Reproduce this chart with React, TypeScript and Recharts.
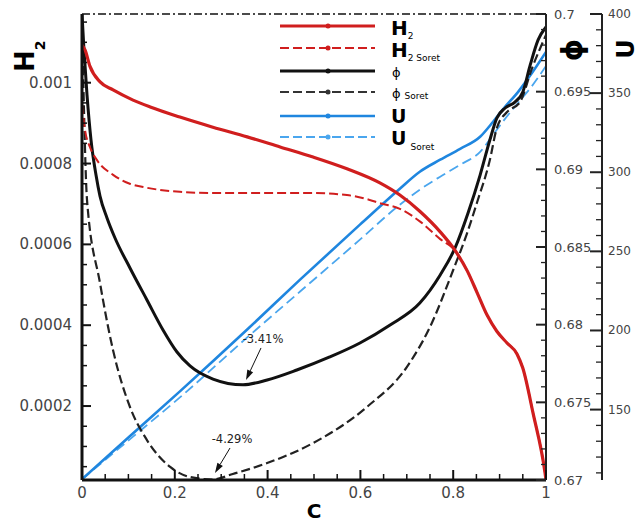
import React from 'react';
import { LineChart, Line, XAxis, YAxis, ReferenceLine } from 'recharts';

// progress variable C and profiles
const cH2 = [0, 0.0065, 0.017, 0.039, 0.067, 0.11, 0.147, 0.211, 0.282, 0.356, 0.427, 0.498, 0.571, 0.642, 0.685, 0.728, 0.772, 0.804, 0.83, 0.851, 0.873, 0.894, 0.916, 0.9375, 0.95, 0.972, 0.998, 1];
const h2 = [0.001093, 0.001081, 0.001041, 0.001002, 0.000982, 0.000957, 0.00094, 0.000915, 0.00089, 0.000866, 0.000841, 0.000816, 0.000787, 0.000752, 0.000722, 0.000682, 0.000631, 0.000585, 0.000535, 0.000482, 0.000425, 0.000385, 0.000356, 0.000329, 0.000294, 0.000183, 0.000034, 0.000017];

const cH2Soret = [0, 0.0065, 0.017, 0.032, 0.067, 0.103, 0.14, 0.211, 0.282, 0.427, 0.498, 0.571, 0.62, 0.642, 0.685, 0.728, 0.772, 0.804, 0.83, 0.851, 0.873, 0.894, 0.916, 0.9375, 0.95, 0.972, 0.998, 1];
const h2Soret = [0.000945, 0.000883, 0.000841, 0.000809, 0.000772, 0.00075, 0.00074, 0.00073, 0.000727, 0.000727, 0.000727, 0.000722, 0.00071, 0.000702, 0.000688, 0.000657, 0.000613, 0.000585, 0.000535, 0.000482, 0.000425, 0.000385, 0.000356, 0.000329, 0.000294, 0.000183, 0.000034, 0.000017];

const cPhi = [0, 0.0043, 0.0108, 0.0194, 0.0302, 0.0388, 0.0539, 0.0711, 0.1034, 0.14, 0.1746, 0.2047, 0.2328, 0.2823, 0.347, 0.399, 0.463, 0.534, 0.599, 0.664, 0.728, 0.772, 0.804, 0.832, 0.858, 0.879, 0.894, 0.912, 0.933, 0.95, 0.966, 0.983, 1];
const phi = [0.7, 0.69768, 0.69479, 0.69189, 0.68963, 0.68828, 0.68687, 0.68558, 0.68365, 0.68159, 0.67966, 0.67824, 0.67734, 0.6765, 0.67613, 0.67644, 0.67708, 0.67792, 0.67882, 0.67998, 0.68139, 0.6832, 0.68494, 0.68719, 0.68963, 0.69189, 0.6933, 0.69395, 0.69433, 0.69498, 0.69672, 0.69833, 0.69916];

const cPhiSoret = [0, 0.0043, 0.0108, 0.0388, 0.0668, 0.1034, 0.14, 0.19, 0.233, 0.282, 0.325, 0.399, 0.498, 0.614, 0.7, 0.75, 0.8, 0.83, 0.851, 0.879, 0.894, 0.916, 0.944, 0.97, 1];
const phiSoret = [0.7, 0.69382, 0.68803, 0.68268, 0.67837, 0.6747, 0.67257, 0.67084, 0.67019, 0.67003, 0.67039, 0.67109, 0.67238, 0.6747, 0.67727, 0.67985, 0.68352, 0.6859, 0.68783, 0.6906, 0.69266, 0.69369, 0.69433, 0.69652, 0.69865];

const cU = [0, 0.103, 0.211, 0.356, 0.47, 0.599, 0.685, 0.728, 0.772, 0.815, 0.858, 0.886, 0.91, 0.94, 0.97, 1];
const u = [106, 133.1, 161.5, 200.6, 232.1, 266.9, 289.6, 300.3, 307.9, 314.8, 322.4, 331.9, 340.7, 350.8, 362.8, 376];
const uSoret = [106, 131.2, 157.7, 195.6, 224.6, 257.4, 279.5, 289, 297.2, 304.7, 312.9, 323.7, 333.1, 343.9, 354.6, 367.2];

// drop of phi below 0.7, arrow from label to the curve minimum
const phiDrops = ['-3.41%', '-4.29%'];
const dropFrom = [[0.3858, 0.6785], [0.319, 0.67206]];
const dropTo = [[0.3534, 0.67644], [0.2866, 0.67045]];

const xTicks = [0, 0.2, 0.4, 0.6, 0.8, 1];
const xLabels = ['0', '0.2', '0.4', '0.6', '0.8', '1'];
const h2Ticks = [0.0002, 0.0004, 0.0006, 0.0008, 0.001];
const h2Labels = ['0.0002', '0.0004', '0.0006', '0.0008', '0.001'];
const phiTicks = [0.67, 0.675, 0.68, 0.685, 0.69, 0.695, 0.7];
const phiLabels = ['0.67', '0.675', '0.68', '0.685', '0.69', '0.695', '0.7'];
const uTicks = [150, 200, 250, 300, 350, 400];
const uLabels = ['150', '200', '250', '300', '350', '400'];

const RED = '#d01e1e';
const BLUE = '#1f86df';
const LBLUE = '#4aa6ee';
const FONT = 'DejaVu Sans, sans-serif';

const pts = (xs: number[], ys: number[]) => xs.map((c, i) => ({ c, v: ys[i] }));

const withMinor = (lo: number, hi: number, step: number) => {
  const out: number[] = [];
  for (let v = lo; v <= hi + step / 2; v += step) out.push(+v.toPrecision(6));
  return out;
};

const findMajor = (majors: number[], v: number, eps: number) => majors.findIndex((m) => Math.abs(m - v) < eps);

const LeftTick = (props: any) => {
  const { x, y, payload } = props;
  const i = findMajor(h2Ticks, payload.value, 1e-8);
  if (i < 0) return <line x1={x} x2={x + 5} y1={y} y2={y} stroke="#111" strokeWidth={1.5} />;
  return (
    <g>
      <line x1={x} x2={x + 9} y1={y} y2={y} stroke="#111" strokeWidth={2} />
      <text x={x - 10} y={y} textAnchor="end" dominantBaseline="central" fontSize={15} fill="#444" fontFamily={FONT}>{h2Labels[i]}</text>
    </g>
  );
};

const BottomTick = (props: any) => {
  const { x, y, payload } = props;
  const i = findMajor(xTicks, payload.value, 1e-4);
  if (i < 0) return <line x1={x} x2={x} y1={y} y2={y - 6} stroke="#111" strokeWidth={1.5} />;
  return (
    <g>
      <line x1={x} x2={x} y1={y} y2={y - 10} stroke="#111" strokeWidth={2} />
      <text x={x} y={y + 18} textAnchor="middle" fontSize={15} fill="#444" fontFamily={FONT}>{xLabels[i]}</text>
    </g>
  );
};

const PhiTick = (props: any) => {
  const { x, y, payload } = props;
  const i = findMajor(phiTicks, payload.value, 1e-5);
  if (i < 0) return <line x1={x} x2={x - 5} y1={y} y2={y} stroke="#222" strokeWidth={1.3} />;
  return (
    <g>
      <line x1={x} x2={x - 10} y1={y} y2={y} stroke="#222" strokeWidth={2} />
      <text x={x + 8} y={y} dominantBaseline="central" fontSize={13} fill="#444" fontFamily={FONT}>{phiLabels[i]}</text>
    </g>
  );
};

const UTick = (props: any) => {
  const { x, y, payload } = props;
  const i = findMajor(uTicks, payload.value, 0.5);
  if (i < 0) return <line x1={x} x2={x - 6} y1={y} y2={y} stroke="#222" strokeWidth={1.3} />;
  return (
    <g>
      <line x1={x} x2={x - 12} y1={y} y2={y} stroke="#222" strokeWidth={2} />
      <text x={x + 6} y={y} dominantBaseline="central" fontSize={12} fill="#444" fontFamily={FONT}>{uLabels[i]}</text>
    </g>
  );
};

const arrowShape = (label: string) => (p: any) => {
  const { x1, y1, x2, y2 } = p;
  const dx = x2 - x1;
  const dy = y2 - y1;
  const len = Math.sqrt(dx * dx + dy * dy) || 1;
  const ux = dx / len;
  const uy = dy / len;
  const bx = x2 - ux * 10;
  const by = y2 - uy * 10;
  return (
    <g>
      <line x1={x1} y1={y1} x2={bx} y2={by} stroke="#111" strokeWidth={1} />
      <polygon points={`${x2},${y2} ${bx - uy * 3.2},${by + ux * 3.2} ${bx + uy * 3.2},${by - ux * 3.2}`} fill="#111" />
      <text x={x1 + 2} y={y1 - 5} textAnchor="middle" fontSize={11.5} fill="#222" fontFamily={FONT}>{label}</text>
    </g>
  );
};

const legendRows = [
  { color: RED, dash: undefined, width: 3 },
  { color: RED, dash: '9 4', width: 2 },
  { color: '#111', dash: undefined, width: 3 },
  { color: '#333', dash: '9 4', width: 2 },
  { color: BLUE, dash: undefined, width: 2.5 },
  { color: LBLUE, dash: '9 4', width: 2 },
];
const legendY = [26, 48, 71, 92, 116, 137];

export default function App() {
  const h2All = withMinor(0.00005, 0.00115, 0.00005);
  const xAll = withMinor(0, 1, 0.05);
  const phiAll = withMinor(0.67, 0.7, 0.001);
  const uAll = withMinor(110, 400, 10);

  return (
    <div style={{ position: 'absolute', left: 0, top: 0, width: 641, height: 522, background: '#fff' }}>
      <LineChart width={641} height={522} margin={{ top: 14, right: 0, bottom: 0, left: 0 }}>
        <XAxis
          type="number"
          dataKey="c"
          domain={[0, 1]}
          allowDataOverflow
          ticks={xAll}
          interval={0}
          height={42}
          tickSize={0}
          tickMargin={0}
          tick={<BottomTick />}
          axisLine={{ stroke: '#111', strokeWidth: 3 }}
        />
        <YAxis
          yAxisId="h2"
          orientation="left"
          type="number"
          domain={[0.000017, 0.00117]}
          allowDataOverflow
          ticks={h2All}
          interval={0}
          width={82}
          tickSize={0}
          tickMargin={0}
          tick={<LeftTick />}
          axisLine={{ stroke: '#111', strokeWidth: 3 }}
        />
        <YAxis
          yAxisId="phi"
          orientation="right"
          type="number"
          domain={[0.67, 0.7]}
          allowDataOverflow
          ticks={phiAll}
          interval={0}
          width={56}
          tickSize={0}
          tickMargin={0}
          tick={<PhiTick />}
          axisLine={{ stroke: '#222', strokeWidth: 2 }}
        />
        <YAxis
          yAxisId="u"
          orientation="right"
          type="number"
          domain={[105.5, 400]}
          allowDataOverflow
          ticks={uAll}
          interval={0}
          width={39}
          tickSize={0}
          tickMargin={0}
          tick={<UTick />}
          axisLine={{ stroke: '#222', strokeWidth: 2 }}
        />
        <ReferenceLine yAxisId="h2" y={0.00117} stroke="#111" strokeWidth={1.5} strokeDasharray="8 3 2 3" />

        <Line data={pts(cU, uSoret)} dataKey="v" yAxisId="u" type="monotone" stroke={LBLUE} strokeWidth={1.8} strokeDasharray="10 5" dot={false} isAnimationActive={false} />
        <Line data={pts(cU, u)} dataKey="v" yAxisId="u" type="monotone" stroke={BLUE} strokeWidth={2.6} dot={false} isAnimationActive={false} />
        <Line data={pts(cPhiSoret, phiSoret)} dataKey="v" yAxisId="phi" type="monotone" stroke="#222" strokeWidth={2.2} strokeDasharray="9 4" dot={false} isAnimationActive={false} />
        <Line data={pts(cPhi, phi)} dataKey="v" yAxisId="phi" type="monotone" stroke="#111" strokeWidth={3} dot={false} isAnimationActive={false} />
        <Line data={pts(cH2Soret, h2Soret)} dataKey="v" yAxisId="h2" type="monotone" stroke={RED} strokeWidth={2} strokeDasharray="9 4" dot={false} isAnimationActive={false} />
        <Line data={pts(cH2, h2)} dataKey="v" yAxisId="h2" type="monotone" stroke={RED} strokeWidth={3.2} dot={false} isAnimationActive={false} />

        {phiDrops.map((label, i) => (
          <ReferenceLine
            key={label}
            yAxisId="phi"
            segment={[{ x: dropFrom[i][0], y: dropFrom[i][1] }, { x: dropTo[i][0], y: dropTo[i][1] }]}
            shape={arrowShape(label)}
          />
        ))}
      </LineChart>

      <svg width={641} height={522} style={{ position: 'absolute', left: 0, top: 0, pointerEvents: 'none' }} fontFamily={FONT}>
        {/* axis titles */}
        <text transform="translate(34,72) rotate(-90)" fontSize={26} fontWeight={700} fill="#000">
          H<tspan fontSize={14} dy={11}>2</tspan>
        </text>
        <text transform="translate(582,50) rotate(-90)" textAnchor="middle" fontSize={28} fontWeight={700} fill="#000">ϕ</text>
        <text transform="translate(634,49) rotate(-90)" textAnchor="middle" fontSize={24} fontWeight={700} fill="#000">U</text>
        <text x={314} y={518} textAnchor="middle" fontSize={20} fontWeight={700} fill="#000">C</text>

        {/* legend */}
        {legendRows.map((r, i) => (
          <g key={i}>
            <line x1={280} x2={375} y1={legendY[i]} y2={legendY[i]} stroke={r.color} strokeWidth={r.width} strokeDasharray={r.dash} />
            <circle cx={328} cy={legendY[i]} r={2.5} fill={r.color} />
          </g>
        ))}
        <text x={391} y={35} fontSize={20} fontWeight={700} fill="#000">H<tspan fontSize={9} fontWeight={400} dy={4}>2</tspan></text>
        <text x={391} y={57} fontSize={20} fontWeight={700} fill="#000">H<tspan fontSize={9} fontWeight={400} dy={4}>2 Soret</tspan></text>
        <text x={392} y={77} fontSize={13} fill="#000">ϕ</text>
        <text x={392} y={98} fontSize={13} fill="#000">ϕ<tspan fontSize={9} dx={4} dy={1}>Soret</tspan></text>
        <text x={391} y={123} fontSize={19} fontWeight={700} fill="#000">U</text>
        <text x={391} y={145} fontSize={19} fontWeight={700} fill="#000">U<tspan fontSize={9} fontWeight={400} dx={4} dy={5}>Soret</tspan></text>
      </svg>
    </div>
  );
}
